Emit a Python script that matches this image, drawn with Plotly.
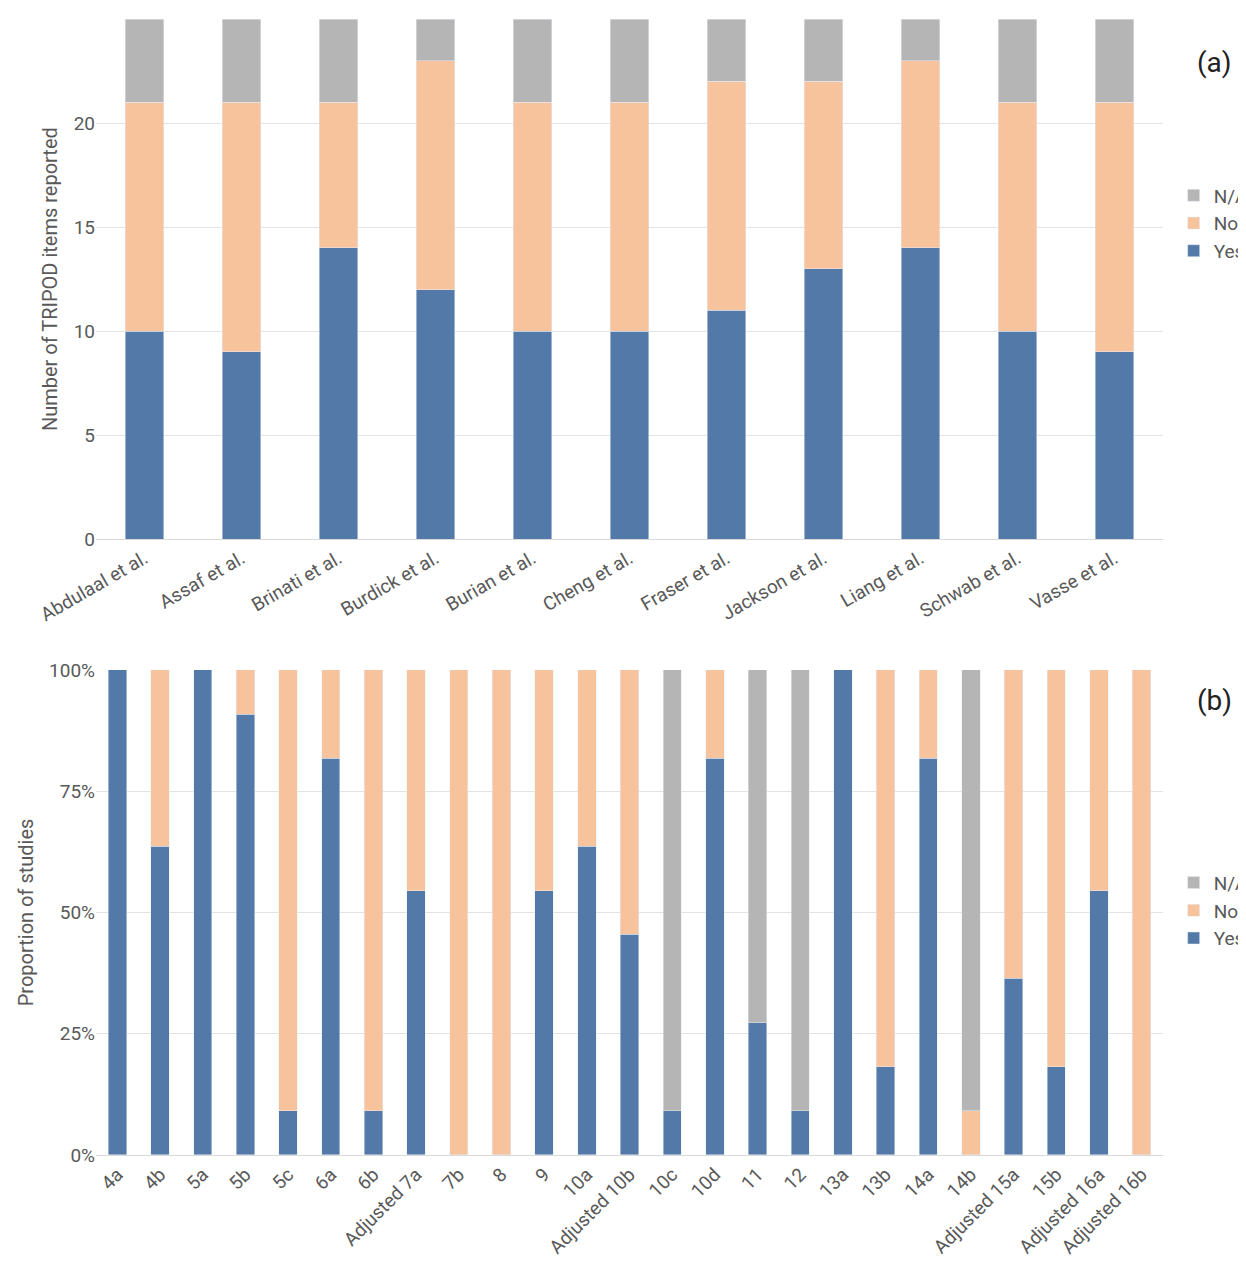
import plotly.graph_objects as go
from plotly.subplots import make_subplots

studies = ["Abdulaal et al.", "Assaf et al.", "Brinati et al.", "Burdick et al.", "Burian et al.",
           "Cheng et al.", "Fraser et al.", "Jackson et al.", "Liang et al.", "Schwab et al.", "Vasse et al."]
a_yes = [10, 9, 14, 12, 10, 10, 11, 13, 14, 10, 9]
a_no = [11, 12, 7, 11, 11, 11, 11, 9, 9, 11, 12]
a_na = [4, 4, 4, 2, 4, 4, 3, 3, 2, 4, 4]

items = ["4a", "4b", "5a", "5b", "5c", "6a", "6b", "Adjusted 7a", "7b", "8", "9", "10a", "Adjusted 10b",
         "10c", "10d", "11", "12", "13a", "13b", "14a", "14b", "Adjusted 15a", "15b", "Adjusted 16a", "Adjusted 16b"]
b_yes = [1, .636, 1, .909, .091, .818, .091, .545, 0, 0, .545, .636, .455,
         .091, .818, .273, .091, 1, .182, .818, 0, .364, .182, .545, 0]
b_no = [0, .364, 0, .091, .909, .182, .909, .455, 1, 1, .455, .364, .545,
        0, .182, 0, 0, 0, .818, .182, .091, .636, .818, .455, 1]
b_na = [0, 0, 0, 0, 0, 0, 0, 0, 0, 0, 0, 0, 0,
        .909, 0, .727, .909, 0, 0, 0, .909, 0, 0, 0, 0]

BLUE, ORANGE, GRAY = "#5279a7", "#f7c39c", "#b5b5b5"
TXT = "#595959"

fig = make_subplots(rows=2, cols=1)
for name, vals, col in [("Yes", a_yes, BLUE), ("No", a_no, ORANGE), ("N/A", a_na, GRAY)]:
    fig.add_trace(go.Bar(x=studies, y=vals, name=name, marker_color=col, width=0.4,
                         legend="legend"), row=1, col=1)
for name, vals, col in [("Yes", b_yes, BLUE), ("No", b_no, ORANGE), ("N/A", b_na, GRAY)]:
    fig.add_trace(go.Bar(x=items, y=vals, name=name, marker_color=col, width=0.43,
                         legend="legend2"), row=2, col=1)

fig.update_layout(
    barmode="stack", width=1246, height=1280, plot_bgcolor="white", paper_bgcolor="white",
    margin=dict(l=88, r=91, t=11, b=133, autoexpand=False),
    font=dict(family="Roboto", size=19, color=TXT),
    legend=dict(x=1.01, xanchor="left", y=0.82, yanchor="middle", traceorder="reversed",
                font=dict(size=19, color=TXT), itemwidth=30),
    legend2=dict(x=1.01, xanchor="left", y=0.215, yanchor="middle", traceorder="reversed",
                 font=dict(size=19, color=TXT), itemwidth=30),
    xaxis=dict(domain=[0, 1], tickangle=-30, showline=True, linecolor="#d9d9d9", automargin=False),
    yaxis=dict(domain=[0.542, 1], range=[0, 25], dtick=5, gridcolor="#e3e3e3", automargin=False,
               title=dict(text="Number of TRIPOD items reported", font=dict(size=20), standoff=10), zeroline=False),
    xaxis2=dict(domain=[0, 1], tickangle=-45, showline=True, linecolor="#d9d9d9", automargin=False),
    yaxis2=dict(domain=[0, 0.427], range=[0, 1], dtick=0.25, tickformat=".0%", gridcolor="#e3e3e3",
                automargin=False,
                title=dict(text="Proportion of studies", font=dict(size=20), standoff=10), zeroline=False),
    annotations=[
        dict(text="(a)", x=1.0, y=0.978, xref="paper", yref="paper", xanchor="left", xshift=32,
             showarrow=False, font=dict(size=28, color="#222")),
        dict(text="(b)", x=1.0, y=0.40, xref="paper", yref="paper", xanchor="left", xshift=32,
             showarrow=False, font=dict(size=28, color="#222")),
    ],
)
fig.write_html("out.html")
